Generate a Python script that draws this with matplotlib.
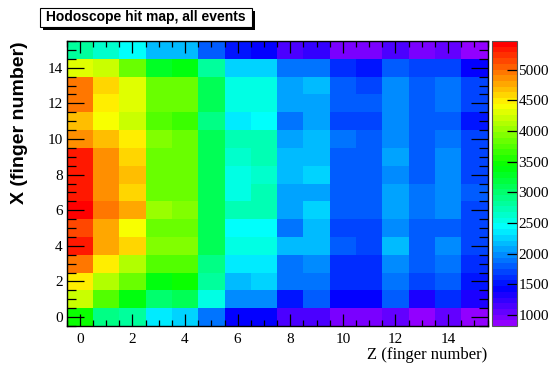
import colorsys
import numpy as np
import matplotlib
matplotlib.use("Agg")
import matplotlib.pyplot as plt
from matplotlib.colors import ListedColormap, Normalize
from matplotlib.patches import Rectangle
from matplotlib.ticker import MultipleLocator

# ---- data: hit counts, one list per X finger (row), entries along Z finger ----
z_fingers = list(range(16))
x_fingers = list(range(16))
x00 = [3430, 2932, 2805, 2375, 2251, 1869, 1438, 1438, 1122, 1122, 940, 940, 1062, 873, 1062, 873]
x01 = [4212, 3745, 3363, 2998, 3114, 2550, 2002, 2002, 1562, 1819, 1438, 1438, 1819, 1313, 1620, 1371]
x02 = [4509, 4117, 3805, 3363, 3430, 2865, 2151, 2251, 1869, 1935, 1620, 1620, 1869, 1687, 1819, 1504]
x03 = [4990, 4509, 4117, 3745, 3745, 2932, 2375, 2375, 1869, 2002, 1620, 1620, 2002, 1819, 1869, 1620]
x04 = [5358, 4797, 4542, 3927, 3927, 3114, 2550, 2550, 2184, 2184, 1753, 1687, 2125, 1819, 2002, 1687]
x05 = [5173, 4741, 4426, 3805, 3805, 3114, 2434, 2434, 1935, 2184, 1687, 1687, 2002, 1819, 1819, 1687]
x06 = [5430, 4990, 4797, 4060, 3927, 3114, 2683, 2683, 2068, 2251, 1819, 1819, 2068, 1869, 2002, 1687]
x07 = [5358, 4857, 4575, 3868, 3868, 3114, 2550, 2683, 2068, 2068, 1819, 1819, 2068, 1869, 2002, 1753]
x08 = [5358, 4857, 4675, 3868, 3868, 3114, 2550, 2616, 2125, 2251, 1819, 1819, 2002, 1819, 2002, 1687]
x09 = [5297, 4857, 4608, 3868, 3868, 3114, 2616, 2683, 2184, 2184, 1819, 1819, 2068, 1819, 2002, 1687]
x10 = [4857, 4675, 4509, 3927, 3868, 3114, 2683, 2683, 2068, 2184, 1869, 1819, 2002, 1819, 1935, 1687]
x11 = [4675, 4426, 4177, 3745, 3612, 2932, 2317, 2434, 1935, 2068, 1687, 1687, 2002, 1819, 1819, 1562]
x12 = [4990, 4509, 4305, 3805, 3805, 3054, 2550, 2550, 2068, 2068, 1819, 1819, 2002, 1819, 1935, 1687]
x13 = [4990, 4608, 4305, 3868, 3805, 3054, 2550, 2550, 2068, 2184, 1819, 1687, 2002, 1819, 1935, 1687]
x14 = [4305, 4177, 3868, 3305, 3363, 2805, 2251, 2251, 1869, 1869, 1620, 1504, 1819, 1687, 1687, 1438]
x15 = [2805, 2616, 2434, 2184, 2184, 1819, 1562, 1438, 1189, 1255, 940, 940, 1122, 940, 1062, 873]
z_range = (820, 5470)
cbar_ticks = [1000, 1500, 2000, 2500, 3000, 3500, 4000, 4500, 5000]

title = "Hodoscope hit map, all events"
xlabel = "Z (finger number)"
ylabel = "X (finger number)"

counts = np.array([x00, x01, x02, x03, x04, x05, x06, x07,
                   x08, x09, x10, x11, x12, x13, x14, x15], dtype=float)

# ROOT "pretty" palette: 50 colours, violet -> red
pal = [colorsys.hls_to_rgb((280.0 - (i + 1) * 5.6) / 360.0, 0.5, 1.0) for i in range(50)]
cmap = ListedColormap(pal)
norm = Normalize(vmin=z_range[0], vmax=z_range[1])

W, H = 552, 367
fig = plt.figure(figsize=(W / 100, H / 100), dpi=100)
fig.patch.set_facecolor("white")

def fx(px):
    return px / W

def fy(py):
    return 1 - py / H

L, R, T, B = 66.7, 487.5, 41, 326
ax = fig.add_axes([fx(L), fy(B), fx(R) - fx(L), fy(T) - fy(B)])
edges_z = np.arange(len(z_fingers) + 1) - 0.5
edges_x = np.arange(len(x_fingers) + 1) - 0.5
im = ax.pcolormesh(edges_z, edges_x, counts, cmap=cmap, norm=norm)
ax.set_xlim(-0.5, 15.5)
ax.set_ylim(-0.5, 15.5)

serif = "Liberation Serif"
ax.xaxis.set_major_locator(MultipleLocator(2))
ax.xaxis.set_minor_locator(MultipleLocator(0.5))
ax.yaxis.set_major_locator(MultipleLocator(2))
ax.yaxis.set_minor_locator(MultipleLocator(0.5))
ax.tick_params(axis="both", which="both", direction="in", top=True, right=True,
               colors="black", width=0.9)
ax.tick_params(axis="x", which="major", length=8.5, pad=5)
ax.tick_params(axis="x", which="minor", length=4.2)
ax.tick_params(axis="y", which="major", length=12.5, pad=3)
ax.tick_params(axis="y", which="minor", length=6.3)
for lab in ax.get_xticklabels() + ax.get_yticklabels():
    lab.set_fontfamily(serif)
    lab.set_fontsize(11)
for s in ax.spines.values():
    s.set_linewidth(1.0)
    s.set_color("black")

# colorbar
cax = fig.add_axes([fx(492), fy(B), fx(517) - fx(492), fy(T) - fy(B)])
cb = fig.colorbar(im, cax=cax, ticks=cbar_ticks)
cb.outline.set_edgecolor("#555555")
cb.outline.set_linewidth(0.8)
cax.yaxis.set_ticks_position("right")
cax.tick_params(axis="y", which="major", direction="in", length=7, width=0.9, pad=1)
cax.minorticks_off()
for lab in cax.get_yticklabels():
    lab.set_fontfamily(serif)
    lab.set_fontsize(11)

# axis titles
fig.text(fx(R), fy(347), xlabel, ha="right", va="top", fontsize=12, family=serif)
fig.text(fx(20), fy(T), ylabel, ha="center", va="top", rotation=90,
         fontsize=14, family="Liberation Sans", fontweight="bold")

# title box with shadow
bx0, bx1, by0, by1 = 40, 252, 8, 27
fig.patches.append(Rectangle((fx(bx0 + 3), fy(by1 + 3)), fx(bx1) - fx(bx0), fy(by0) - fy(by1),
                             transform=fig.transFigure, facecolor="black", edgecolor="none", zorder=1))
fig.patches.append(Rectangle((fx(bx0), fy(by1)), fx(bx1) - fx(bx0), fy(by0) - fy(by1),
                             transform=fig.transFigure, facecolor="white", edgecolor="black",
                             linewidth=0.8, zorder=2))
fig.text(fx((bx0 + bx1) / 2), fy((by0 + by1) / 2), title, ha="center", va="center",
         fontsize=10, family="Liberation Sans", fontweight="bold", zorder=3)

fig.savefig("out.png", dpi=100, facecolor="white")
